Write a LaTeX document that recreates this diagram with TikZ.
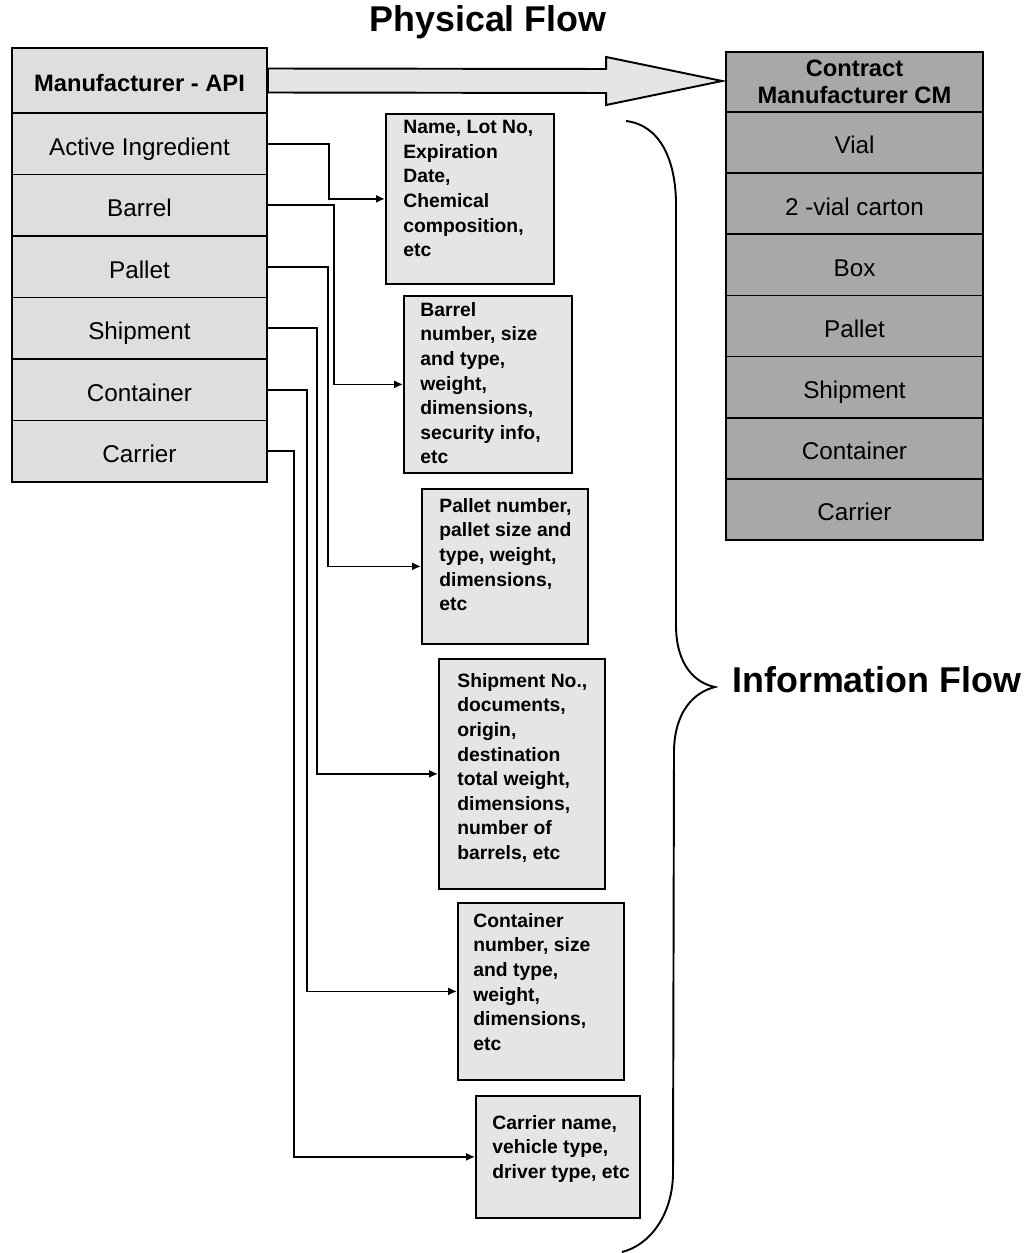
\documentclass[tikz,border=0pt]{standalone}
\usepackage{fontspec}
\setmainfont{Liberation Sans}
\usetikzlibrary{arrows.meta,calc}

\definecolor{apigray}{gray}{0.87}
\definecolor{cmgray}{gray}{0.66}
\definecolor{infogray}{gray}{0.90}

\begin{document}
\begin{tikzpicture}[x=0.02cm, y=-0.02cm, >={Latex[length=5pt,width=4.5pt]},
  apibox/.style={draw, line width=1pt, fill=apigray, minimum width=255*\pu, inner sep=0pt,
    text height=13pt, text depth=0pt, font=\fontsize{13.8}{16}\selectfont},
  cmbox/.style={draw, line width=1pt, fill=cmgray, minimum width=257*\pu, inner sep=0pt,
    text height=13pt, text depth=0pt, font=\fontsize{13.8}{16}\selectfont},
  headfont/.style={font=\bfseries\fontsize{13.5}{15.3}\selectfont},
  infobox/.style={draw, line width=1pt, fill=infogray, anchor=north west, inner sep=0pt},
  infotext/.style={anchor=north west, align=left, inner sep=0pt,
    font=\bfseries\fontsize{11}{14}\selectfont},
  infolink/.style={->, line width=0.9pt},
  physarrow/.style={draw, line width=1.1pt, fill=infogray, line join=miter},
  title/.style={font=\bfseries\fontsize{20.4}{24}\selectfont, inner sep=0pt}]
  % 1 unit = 1 px of the reference
  \def\pu{0.02cm}
  \useasboundingbox (0,0) rectangle (1032,1253);

  % titles
  \node[title, anchor=base] (physlbl) at (488,32) {Physical Flow};
  \node[title, anchor=base west] (infolbl) at (732,692) {Information Flow};

  % manufacturer column
  \node[apibox, headfont, minimum height=65*\pu] (apihead) at (139.5,80.5) {Manufacturer - API};
  \foreach \lbl [count=\i] in {Active Ingredient,Barrel,Pallet,Shipment,Container,Carrier}
    \node[apibox, minimum height=61.5*\pu] (api\i) at (139.5,{113+61.5*(\i-0.5)}) {\lbl};

  % contract manufacturer column
  \node[cmbox, headfont, align=center, text height=, text depth=, minimum height=60*\pu] (cmhead)
    at (854.5,82) {Contract\\Manufacturer CM};
  \foreach \lbl [count=\i] in {Vial,2 -vial carton,Box,Pallet,Shipment,Container,Carrier}
    \node[cmbox, minimum height=61.14*\pu] (cm\i) at (854.5,{112+61.14*(\i-0.5)}) {\lbl};

  % physical flow arrow
  \coordinate (tip) at ($(cmhead.west)+(-3,-1)$);
  \draw[physarrow] ($(apihead.east)+(0,-12)$) -- ($(tip)+(-116,-12)$) -- ($(tip)+(-116,-24)$)
    -- (tip) -- ($(tip)+(-116,24)$) -- ($(tip)+(-116,12)$) -- ($(apihead.east)+(0,12)$) -- cycle;

  % information boxes
  \node[infobox, minimum width=168*\pu, minimum height=170*\pu,
    label={[infotext, xshift=18*\pu, yshift=-7*\pu]north west:{Name, Lot No,\\Expiration\\Date,\\Chemical\\composition,\\etc}}]
    (info1) at (385,113) {};
  \node[infobox, minimum width=168*\pu, minimum height=177*\pu,
    label={[infotext, xshift=17*\pu, yshift=-7*\pu]north west:{Barrel\\number, size\\and type,\\weight,\\dimensions,\\security info,\\etc}}]
    (info2) at (403,295) {};
  \node[infobox, minimum width=166*\pu, minimum height=155*\pu,
    label={[infotext, xshift=18*\pu, yshift=-10*\pu]north west:{Pallet number,\\pallet size and\\type, weight,\\dimensions,\\etc}}]
    (info3) at (421,488) {};
  \node[infobox, minimum width=166*\pu, minimum height=230*\pu,
    label={[infotext, xshift=19*\pu, yshift=-15*\pu]north west:{Shipment No.,\\documents,\\origin,\\destination\\total weight,\\dimensions,\\number of\\barrels, etc}}]
    (info4) at (438,658) {};
  \node[infobox, minimum width=166*\pu, minimum height=177*\pu,
    label={[infotext, xshift=16*\pu, yshift=-11*\pu]north west:{Container\\number, size\\and type,\\weight,\\dimensions,\\etc}}]
    (info5) at (457,902) {};
  \node[infobox, minimum width=164*\pu, minimum height=122*\pu,
    label={[infotext, xshift=17*\pu, yshift=-20*\pu]north west:{Carrier name,\\vehicle type,\\driver type, etc}}]
    (info6) at (475,1095) {};

  % links from items to their data
  \foreach \i/\d in {1/61,2/66,3/60,4/49,5/39,6/26}
    \draw[infolink] (api\i.east) -- ++(\d,0) |- (info\i.west);

  % brace of the information flow
  \draw[line width=1.1pt] (626,121) .. controls (660,125) and (676,160) .. (676,205)
    -- (676,625) .. controls (676,665) and (695,683) .. (715,687)
    .. controls (695,692) and (675,710) .. (674,750)
    -- (673,1175) .. controls (672,1215) and (650,1245) .. (622,1252);
\end{tikzpicture}
\end{document}
